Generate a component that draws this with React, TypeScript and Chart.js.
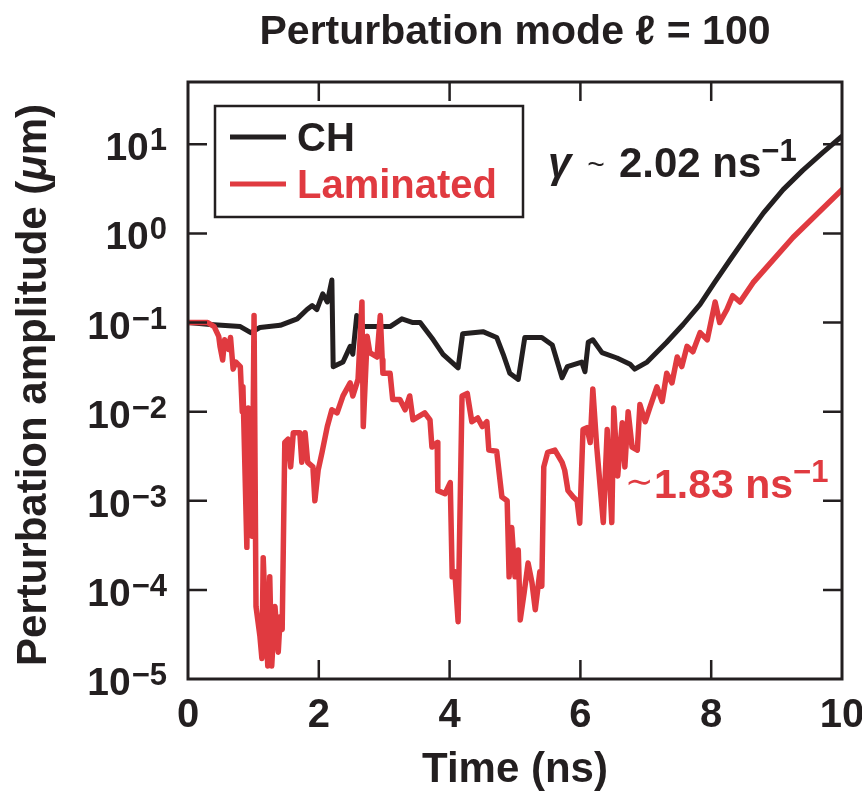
import React, { useEffect, useRef } from "react";
import { Chart, registerables } from "chart.js";

Chart.register(...registerables);

const INK = "#231f20";
const RED = "#e03a40";
const FONT = '"Liberation Sans", Arial, Helvetica, sans-serif';

// CH target (black)
const chTime = [0, 0.34, 0.8, 0.96, 1.1, 1.41, 1.67, 1.82, 1.9, 1.97, 2.06, 2.13, 2.2, 2.22, 2.37, 2.48, 2.52, 2.58, 2.66, 2.94, 3.09, 3.27, 3.44, 3.55, 3.75, 3.9, 4.13, 4.2, 4.51, 4.72, 4.82, 4.92, 5.05, 5.15, 5.41, 5.57, 5.72, 5.8, 6.02, 6.07, 6.12, 6.19, 6.33, 6.56, 6.76, 6.83, 7.02, 7.32, 7.57, 7.83, 8.05, 8.3, 8.55, 8.8, 9.1, 9.4, 9.7, 10.0];
const chAmp = [0.1, 0.095, 0.09, 0.077, 0.088, 0.093, 0.11, 0.14, 0.155, 0.14, 0.21, 0.17, 0.3, 0.032, 0.036, 0.054, 0.044, 0.12, 0.09, 0.09, 0.09, 0.11, 0.1, 0.1, 0.064, 0.044, 0.031, 0.075, 0.079, 0.068, 0.044, 0.027, 0.023, 0.068, 0.068, 0.056, 0.024, 0.032, 0.036, 0.028, 0.06, 0.064, 0.046, 0.04, 0.034, 0.03, 0.036, 0.06, 0.095, 0.16, 0.28, 0.52, 0.95, 1.7, 3.1, 5.1, 8.0, 12.3];

// Laminated target (red)
const lamTime = [0, 0.3, 0.4, 0.47, 0.49, 0.53, 0.56, 0.62, 0.65, 0.69, 0.73, 0.8, 0.83, 0.84, 0.9, 0.92, 0.98, 1.01, 1.04, 1.1, 1.13, 1.15, 1.18, 1.22, 1.25, 1.28, 1.33, 1.38, 1.41, 1.44, 1.48, 1.53, 1.57, 1.61, 1.71, 1.74, 1.79, 1.83, 1.91, 1.94, 1.99, 2.05, 2.13, 2.2, 2.28, 2.37, 2.48, 2.52, 2.6, 2.66, 2.68, 2.74, 2.78, 2.89, 2.94, 2.97, 2.98, 3.09, 3.13, 3.24, 3.32, 3.39, 3.44, 3.62, 3.7, 3.73, 3.81, 3.82, 3.93, 4.01, 4.04, 4.08, 4.13, 4.19, 4.27, 4.34, 4.43, 4.5, 4.57, 4.6, 4.72, 4.8, 4.88, 4.91, 4.95, 5.0, 5.05, 5.08, 5.14, 5.2, 5.26, 5.31, 5.38, 5.41, 5.44, 5.5, 5.61, 5.72, 5.76, 5.81, 5.89, 5.95, 5.99, 6.04, 6.1, 6.15, 6.19, 6.25, 6.35, 6.41, 6.48, 6.51, 6.57, 6.64, 6.68, 6.73, 6.79, 6.87, 6.91, 6.99, 7.06, 7.17, 7.25, 7.32, 7.4, 7.48, 7.55, 7.63, 7.72, 7.83, 7.94, 8.06, 8.13, 8.24, 8.33, 8.44, 8.64, 9.25, 10.0];
const lamAmp = [0.1, 0.1, 0.09, 0.07, 0.054, 0.038, 0.064, 0.05, 0.068, 0.03, 0.036, 0.032, 0.01, 0.019, 0.0003, 0.011, 0.0004, 0.12, 0.000065, 0.00003, 0.000017, 0.00023, 0.00006, 0.000014, 0.00014, 0.000014, 0.000065, 0.00002, 0.00005, 0.000036, 0.0045, 0.0049, 0.0024, 0.0058, 0.0058, 0.0027, 0.0058, 0.0027, 0.0024, 0.001, 0.0022, 0.0035, 0.0068, 0.0105, 0.0097, 0.015, 0.021, 0.015, 0.023, 0.17, 0.0068, 0.07, 0.046, 0.041, 0.12, 0.038, 0.027, 0.027, 0.0137, 0.0137, 0.0105, 0.015, 0.0081, 0.0097, 0.0081, 0.004, 0.0045, 0.0013, 0.0012, 0.0016, 0.00014, 0.00016, 0.000044, 0.015, 0.016, 0.0077, 0.0085, 0.0068, 0.0077, 0.0037, 0.0036, 0.0011, 0.001, 0.00014, 0.0005, 0.00014, 0.00028, 0.000046, 0.000093, 0.0002, 0.00012, 0.00006, 0.00016, 0.00011, 0.0024, 0.0035, 0.0037, 0.0027, 0.0022, 0.0013, 0.0011, 0.001, 0.00056, 0.0063, 0.0066, 0.0045, 0.018, 0.004, 0.00057, 0.0063, 0.00057, 0.011, 0.0019, 0.0075, 0.0024, 0.01, 0.004, 0.0037, 0.012, 0.0077, 0.011, 0.019, 0.013, 0.027, 0.021, 0.041, 0.032, 0.054, 0.047, 0.077, 0.064, 0.17, 0.1, 0.14, 0.2, 0.17, 0.28, 0.9, 3.1];

const xTickValues = [0, 2, 4, 6, 8, 10];
const yTickExponents = [1, 0, -1, -2, -3, -4, -5];
const seriesNames = ["CH", "Laminated"];
const titleText = "Perturbation mode \u2113 = 100";
const xTitle = "Time (ns)";
const chRate = "2.02";
const lamRate = "1.83";

const toPoints = (t: number[], a: number[]) => t.map((v, i) => ({ x: v, y: a[i] }));

type Part = { t: string; f: string; dy?: number; dx?: number; color?: string };

function drawParts(ctx: CanvasRenderingContext2D, parts: Part[], x: number, y: number, align: "left" | "center") {
  ctx.textAlign = "left";
  let total = 0;
  parts.forEach((p) => {
    ctx.font = p.f;
    total += ctx.measureText(p.t).width + (p.dx || 0);
  });
  let cx = align === "center" ? x - total / 2 : x;
  parts.forEach((p) => {
    ctx.font = p.f;
    cx += p.dx || 0;
    if (p.color) ctx.fillStyle = p.color;
    ctx.fillText(p.t, cx, y + (p.dy || 0));
    cx += ctx.measureText(p.t).width;
  });
}

const decorPlugin = {
  id: "decor",
  afterDraw(chart: any) {
    const { ctx, chartArea: a, scales } = chart;
    const xs = scales.x;
    const ys = scales.y;
    ctx.save();
    ctx.fillStyle = INK;
    ctx.strokeStyle = INK;
    ctx.lineCap = "butt";

    // frame
    ctx.lineWidth = 3;
    ctx.strokeRect(a.left, a.top, a.right - a.left, a.bottom - a.top);

    // inward ticks
    const TL = 19;
    ctx.lineWidth = 2.5;
    ctx.beginPath();
    xTickValues.forEach((v) => {
      const px = xs.getPixelForValue(v);
      if (px > a.left + 2 && px < a.right - 2) {
        ctx.moveTo(px, a.bottom);
        ctx.lineTo(px, a.bottom - TL);
        ctx.moveTo(px, a.top);
        ctx.lineTo(px, a.top + TL);
      }
    });
    yTickExponents.forEach((e) => {
      const py = ys.getPixelForValue(Math.pow(10, e));
      if (py > a.top + 2 && py < a.bottom - 2) {
        ctx.moveTo(a.left, py);
        ctx.lineTo(a.left + TL, py);
        ctx.moveTo(a.right, py);
        ctx.lineTo(a.right - TL, py);
      }
    });
    ctx.stroke();

    // x tick labels
    ctx.textBaseline = "alphabetic";
    ctx.textAlign = "center";
    ctx.font = `bold 40px ${FONT}`;
    xTickValues.forEach((v) => ctx.fillText(String(v), xs.getPixelForValue(v), a.bottom + 48));

    // y tick labels 10^e
    yTickExponents.forEach((e) => {
      const py = ys.getPixelForValue(Math.pow(10, e));
      const expStr = e < 0 ? "\u2212" + -e : String(e);
      const right = a.left - 21;
      ctx.textAlign = "right";
      ctx.font = `bold 31px ${FONT}`;
      ctx.fillText(expStr, right, py + 6);
      const w = ctx.measureText(expStr).width;
      ctx.font = `bold 39px ${FONT}`;
      ctx.fillText("10", right - w - 1, py + 16);
    });

    // title
    ctx.textAlign = "center";
    ctx.font = `bold 41px ${FONT}`;
    ctx.fillText(titleText, (a.left + a.right) / 2, 44);

    // x title
    ctx.font = `bold 42px ${FONT}`;
    ctx.fillText(xTitle, (a.left + a.right) / 2, 782);

    // y title (rotated)
    ctx.save();
    ctx.translate(46, 385);
    ctx.rotate(-Math.PI / 2);
    drawParts(
      ctx,
      [
        { t: "Perturbation amplitude (", f: `bold 42px ${FONT}` },
        { t: "\u03bc", f: `italic bold 42px ${FONT}` },
        { t: "m)", f: `bold 42px ${FONT}` },
      ],
      0,
      0,
      "center"
    );
    ctx.restore();

    // legend
    ctx.fillStyle = "#ffffff";
    ctx.fillRect(215, 106, 308, 111);
    ctx.lineWidth = 2.5;
    ctx.strokeStyle = INK;
    ctx.strokeRect(215, 106, 308, 111);
    const legendColors = [INK, RED];
    const legendY = [137, 184];
    seriesNames.forEach((name, i) => {
      ctx.strokeStyle = legendColors[i];
      ctx.lineWidth = 5;
      ctx.beginPath();
      ctx.moveTo(230, legendY[i]);
      ctx.lineTo(286, legendY[i]);
      ctx.stroke();
      ctx.fillStyle = legendColors[i];
      ctx.textAlign = "left";
      ctx.font = `bold 40px ${FONT}`;
      ctx.fillText(name, 297, legendY[i] + 14);
    });

    // growth-rate annotations
    ctx.fillStyle = INK;
    drawParts(
      ctx,
      [
        { t: "\u03b3", f: `italic bold 42px ${FONT}` },
        { t: "~", f: `30px ${FONT}`, dx: 16, dy: -3 },
        { t: chRate + " ns", f: `bold 42px ${FONT}`, dx: 14 },
        { t: "\u22121", f: `bold 31px ${FONT}`, dy: -16 },
      ],
      548,
      177,
      "left"
    );
    ctx.fillStyle = RED;
    drawParts(
      ctx,
      [
        { t: "\u223c", f: `34px ${FONT}`, dy: -5 },
        { t: lamRate + " ns", f: `bold 41px ${FONT}`, dx: 1 },
        { t: "\u22121", f: `bold 31px ${FONT}`, dy: -16 },
      ],
      625,
      498,
      "left"
    );

    ctx.restore();
  },
};

export default function App() {
  const canvasRef = useRef<HTMLCanvasElement | null>(null);

  useEffect(() => {
    const canvas = canvasRef.current;
    if (!canvas) return;
    const chart = new Chart(canvas, {
      type: "line",
      data: {
        datasets: [
          {
            label: seriesNames[1],
            data: toPoints(lamTime, lamAmp),
            borderColor: RED,
            borderWidth: 5.5,
            pointRadius: 0,
            tension: 0,
            borderJoinStyle: "round",
            borderCapStyle: "round",
            fill: false,
          },
          {
            label: seriesNames[0],
            data: toPoints(chTime, chAmp),
            borderColor: INK,
            borderWidth: 5,
            pointRadius: 0,
            tension: 0,
            borderJoinStyle: "round",
            borderCapStyle: "round",
            fill: false,
          },
        ],
      },
      options: {
        responsive: false,
        animation: false,
        devicePixelRatio: 1,
        layout: { padding: { left: 188, top: 82, right: 20, bottom: 115 } },
        plugins: {
          legend: { display: false },
          title: { display: false },
          tooltip: { enabled: false },
        },
        events: [],
        scales: {
          x: { type: "linear", min: 0, max: 10, display: false },
          y: { type: "logarithmic", min: 1e-5, max: 50, display: false },
        },
      },
      plugins: [decorPlugin],
    });
    return () => chart.destroy();
  }, []);

  return (
    <div style={{ position: "fixed", left: 0, top: 0, width: 862, height: 794, background: "#fff" }}>
      <canvas ref={canvasRef} width={862} height={794} style={{ display: "block" }} />
    </div>
  );
}
